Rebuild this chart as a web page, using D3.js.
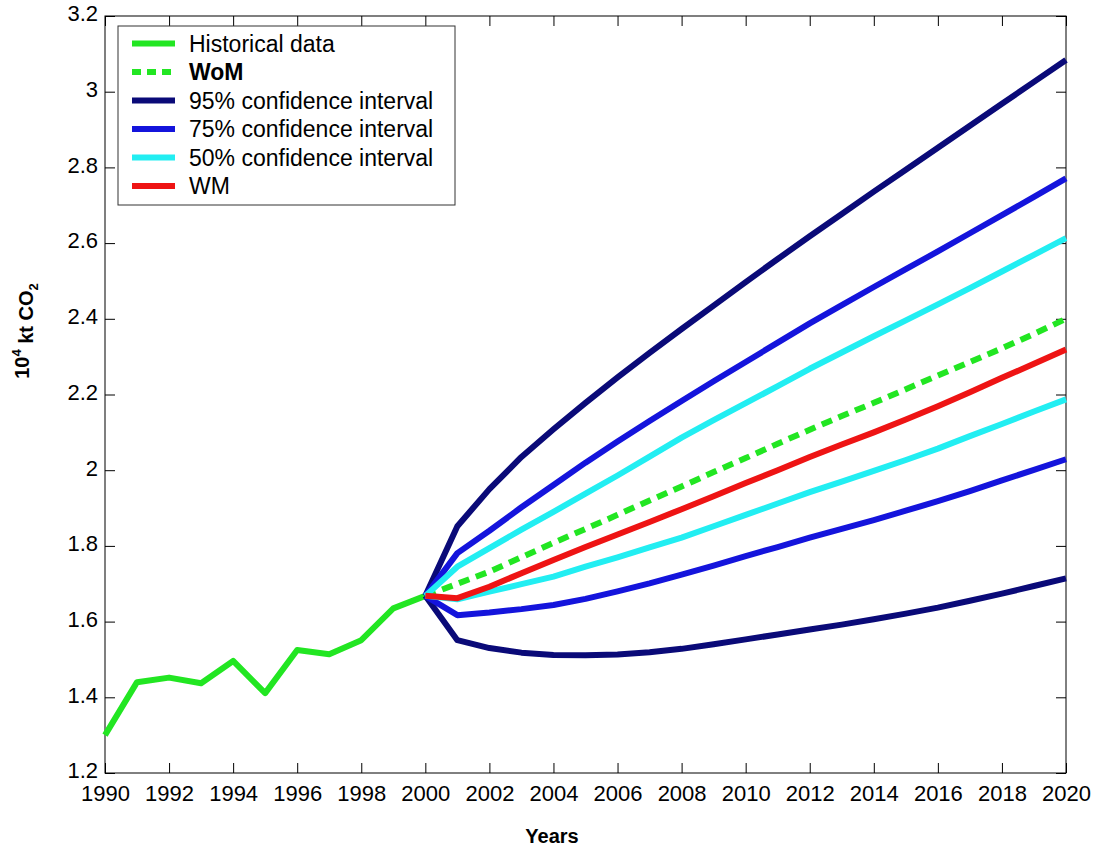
<!DOCTYPE html>
<html>
<head>
<meta charset="utf-8">
<script src="https://cdn.jsdelivr.net/npm/d3@7"></script>
<style>
  body { margin: 0; background: #fff; }
  text { font-family: Arial, "Liberation Sans", sans-serif; }
</style>
</head>
<body>
<div id="chart"></div>
<script>
// historical emissions, 10^4 kt CO2
const histYears = [1990, 1991, 1992, 1993, 1994, 1995, 1996, 1997, 1998, 1999, 2000];
const histValues = [1.300, 1.440, 1.452, 1.437, 1.496, 1.411, 1.525, 1.514, 1.551, 1.635, 1.668];

// projection years 2000..2020
const projYears = [2000, 2001, 2002, 2003, 2004, 2005, 2006, 2007, 2008, 2009, 2010,
                   2011, 2012, 2013, 2014, 2015, 2016, 2017, 2018, 2019, 2020];
const wom     = [1.668, 1.700, 1.732, 1.770, 1.808, 1.845, 1.882, 1.920, 1.957, 1.995, 2.032,
                 2.070, 2.107, 2.143, 2.178, 2.214, 2.250, 2.286, 2.322, 2.360, 2.400];
const wm      = [1.668, 1.662, 1.692, 1.728, 1.763, 1.797, 1.830, 1.863, 1.897, 1.931, 1.966,
                 2.000, 2.035, 2.068, 2.100, 2.134, 2.169, 2.206, 2.244, 2.281, 2.319];
const ci50Hi  = [1.668, 1.745, 1.794, 1.843, 1.890, 1.938, 1.986, 2.036, 2.086, 2.132, 2.177,
                 2.222, 2.268, 2.311, 2.354, 2.396, 2.438, 2.481, 2.525, 2.569, 2.613];
const ci50Lo  = [1.668, 1.659, 1.679, 1.699, 1.719, 1.745, 1.770, 1.796, 1.822, 1.852, 1.882,
                 1.912, 1.942, 1.970, 1.998, 2.027, 2.057, 2.090, 2.122, 2.155, 2.187];
const ci75Hi  = [1.668, 1.781, 1.840, 1.902, 1.961, 2.020, 2.076, 2.130, 2.183, 2.235, 2.286,
                 2.337, 2.388, 2.436, 2.484, 2.531, 2.578, 2.626, 2.674, 2.722, 2.771];
const ci75Lo  = [1.668, 1.617, 1.624, 1.633, 1.644, 1.660, 1.680, 1.701, 1.724, 1.748, 1.773,
                 1.797, 1.822, 1.845, 1.868, 1.893, 1.918, 1.945, 1.973, 2.001, 2.029];
const ci95Hi  = [1.668, 1.852, 1.950, 2.035, 2.108, 2.178, 2.245, 2.310, 2.373, 2.435, 2.497,
                 2.558, 2.618, 2.677, 2.736, 2.794, 2.852, 2.910, 2.968, 3.026, 3.084];
const ci95Lo  = [1.668, 1.551, 1.530, 1.518, 1.512, 1.511, 1.513, 1.519, 1.528, 1.540, 1.553,
                 1.566, 1.579, 1.592, 1.606, 1.621, 1.637, 1.655, 1.674, 1.694, 1.714];

const xTicks = [1990, 1992, 1994, 1996, 1998, 2000, 2002, 2004, 2006, 2008, 2010,
                2012, 2014, 2016, 2018, 2020];
const yTicks = [1.2, 1.4, 1.6, 1.8, 2, 2.2, 2.4, 2.6, 2.8, 3, 3.2];

const legendLabels = ["Historical data", "WoM", "95% confidence interval",
                      "75% confidence interval", "50% confidence interval", "WM"];

// colours
const cGreen = "#22e622", cNavy = "#0a0a78", cBlue = "#1414dc", cCyan = "#22eef2", cRed = "#ee1414";

const W = 1098, H = 850;
const mLeft = 105, mRight = 1066, mTop = 16, mBottom = 773;

const svg = d3.select("#chart").append("svg")
    .attr("width", W)
    .attr("height", H);

const x = d3.scaleLinear().domain([1990, 2020]).range([mLeft, mRight]);
const y = d3.scaleLinear().domain([1.2, 3.2]).range([mBottom, mTop]);

// axes with inward ticks on all four sides (matlab box style)
const fmtY = d => (d === 2 || d === 3) ? String(d) : d3.format(".1f")(d);
const fontFam = "Arial, 'Liberation Sans', sans-serif";

svg.append("g")
    .attr("transform", `translate(0,${mBottom})`)
    .call(d3.axisBottom(x).tickValues(xTicks).tickFormat(d3.format("d"))
        .tickSizeInner(-10).tickSizeOuter(0).tickPadding(12))
    .call(g => g.select(".domain").remove())
    .call(g => g.selectAll("text").attr("font-size", 22).attr("fill", "#000")
        .style("font-family", fontFam));

svg.append("g")
    .attr("transform", `translate(${mLeft},0)`)
    .call(d3.axisLeft(y).tickValues(yTicks).tickFormat(fmtY)
        .tickSizeInner(-10).tickSizeOuter(0).tickPadding(7))
    .call(g => g.select(".domain").remove())
    .call(g => g.selectAll("text").attr("font-size", 22).attr("fill", "#000")
        .attr("dy", "0.22em")
        .style("font-family", fontFam));

svg.append("g")
    .attr("transform", `translate(0,${mTop})`)
    .call(d3.axisTop(x).tickValues(xTicks).tickFormat("").tickSizeInner(-10).tickSizeOuter(0))
    .call(g => g.select(".domain").remove());

svg.append("g")
    .attr("transform", `translate(${mRight},0)`)
    .call(d3.axisRight(y).tickValues(yTicks).tickFormat("").tickSizeInner(-10).tickSizeOuter(0))
    .call(g => g.select(".domain").remove());

svg.append("rect")
    .attr("x", mLeft).attr("y", mTop)
    .attr("width", mRight - mLeft).attr("height", mBottom - mTop)
    .attr("fill", "none").attr("stroke", "#000").attr("stroke-width", 1);

// lines
const line = d3.line().x(d => x(d[0])).y(d => y(d[1]));
const zip = (xs, ys) => xs.map((v, i) => [v, ys[i]]);

const series = [
    { data: zip(histYears, histValues), color: cGreen, dash: null },
    { data: zip(projYears, wom), color: cGreen, dash: "11,7" },
    { data: zip(projYears, ci95Hi), color: cNavy, dash: null },
    { data: zip(projYears, ci95Lo), color: cNavy, dash: null },
    { data: zip(projYears, ci75Hi), color: cBlue, dash: null },
    { data: zip(projYears, ci75Lo), color: cBlue, dash: null },
    { data: zip(projYears, ci50Hi), color: cCyan, dash: null },
    { data: zip(projYears, ci50Lo), color: cCyan, dash: null },
    { data: zip(projYears, wm), color: cRed, dash: null }
];

svg.append("g").selectAll("path")
    .data(series)
    .enter()
    .append("path")
    .attr("d", d => line(d.data))
    .attr("fill", "none")
    .attr("stroke", d => d.color)
    .attr("stroke-width", 6)
    .attr("stroke-dasharray", d => d.dash)
    .attr("stroke-linejoin", "round");

// legend
const legendColors = [cGreen, cGreen, cNavy, cBlue, cCyan, cRed];
const legend = svg.append("g");
legend.append("rect")
    .attr("x", 118).attr("y", 26).attr("width", 337).attr("height", 179)
    .attr("fill", "#fff").attr("stroke", "#333").attr("stroke-width", 1);

const rows = legend.selectAll("g.row")
    .data(legendLabels)
    .enter()
    .append("g")
    .attr("class", "row")
    .attr("transform", (d, i) => `translate(0,${43.5 + i * 28.5})`);

rows.append("line")
    .attr("x1", 132).attr("x2", 175)
    .attr("stroke", (d, i) => legendColors[i])
    .attr("stroke-width", 6)
    .attr("stroke-dasharray", (d, i) => i === 1 ? "9,6" : null);

rows.append("text")
    .attr("x", 189).attr("dy", "0.35em")
    .attr("font-size", 23)
    .attr("font-weight", (d, i) => i === 1 ? "bold" : "normal")
    .text(d => d);

// axis titles
svg.append("text")
    .attr("x", 552).attr("y", 843)
    .attr("text-anchor", "middle")
    .attr("font-size", 20).attr("font-weight", "bold")
    .text("Years");

const yLab = svg.append("text")
    .attr("transform", "translate(29,331) rotate(-90)")
    .attr("text-anchor", "middle")
    .attr("font-size", 20).attr("font-weight", "bold");
yLab.append("tspan").text("10");
yLab.append("tspan").attr("font-size", 13).attr("dy", "-0.6em").text("4");
yLab.append("tspan").attr("dy", "0.6em").text(" kt CO");
yLab.append("tspan").attr("font-size", 13).attr("dy", "0.35em").text("2");
</script>
</body>
</html>
